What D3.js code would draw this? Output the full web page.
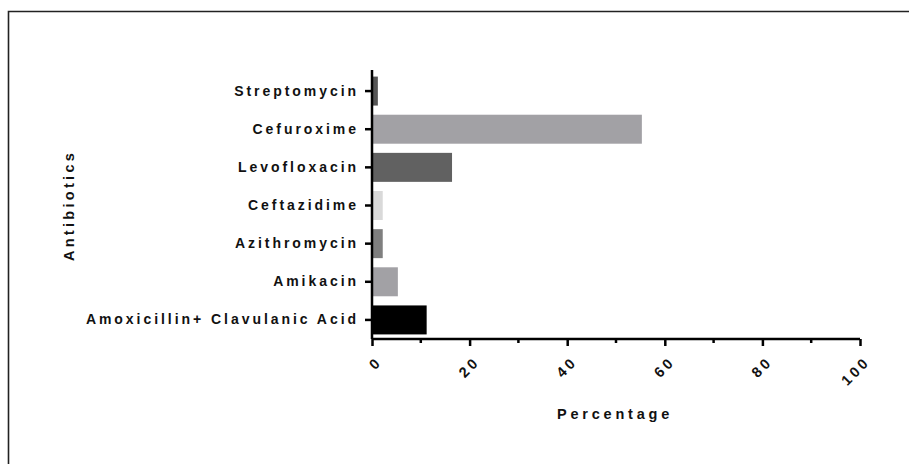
<!DOCTYPE html>
<html>
<head>
<meta charset="utf-8">
<script src="https://cdn.jsdelivr.net/npm/d3@7"></script>
<style>
  body { margin: 0; background: #fff; }
  svg text { font-family: 'Liberation Sans', Arial, sans-serif; font-weight: 700; fill: #111; }
</style>
</head>
<body>
<div id="chart"></div>
<script>
// data
const antibiotics = ['Amoxicillin+ Clavulanic Acid', 'Amikacin', 'Azithromycin', 'Ceftazidime', 'Levofloxacin', 'Cefuroxime', 'Streptomycin']
const percentages = [11.2, 5.3, 2.2, 2.2, 16.4, 55.3, 1.2]
const barColors = ['#000000', '#a2a1a5', '#7f7f7f', '#d9d9d9', '#616161', '#a2a1a5', '#555555']
const xTicks = [0, 20, 40, 60, 80, 100]

const width = 909
const height = 464
const margin = { top: 72, left: 372, right: 49, bottom: 125 }
const plotWidth = width - margin.left - margin.right
const plotHeight = height - margin.top - margin.bottom

const datapoints = antibiotics.map((name, i) => ({ name: name, value: percentages[i], color: barColors[i] }))

const svg = d3
  .select('#chart')
  .append('svg')
  .attr('width', width)
  .attr('height', height)

// frame line, top and left only
svg
  .append('path')
  .attr('d', 'M8.5,' + height + 'V11.5H' + width)
  .attr('fill', 'none')
  .attr('stroke', '#222')
  .attr('stroke-width', 1.6)

const g = svg
  .append('g')
  .attr('transform', 'translate(' + margin.left + ',' + margin.top + ')')

const xPositionScale = d3
  .scaleLinear()
  .domain([0, 100])
  .range([0, plotWidth])

const yPositionScale = d3
  .scaleBand()
  .domain(antibiotics)
  .range([plotHeight, 0])
  .paddingInner(0.24)
  .paddingOuter(0.12)

g.selectAll('rect')
  .data(datapoints)
  .enter()
  .append('rect')
  .attr('x', 0)
  .attr('y', d => yPositionScale(d.name))
  .attr('width', d => xPositionScale(d.value))
  .attr('height', yPositionScale.bandwidth())
  .attr('fill', d => d.color)

// x axis with minor ticks every 10
const xAxis = d3.axisBottom(xPositionScale).tickValues(xTicks).tickSize(7).tickFormat(d3.format('d'))
g.append('g')
  .attr('class', 'axis x-axis')
  .attr('transform', 'translate(0,' + plotHeight + ')')
  .call(xAxis)
  .call(a => a.select('.domain').attr('stroke', '#000').attr('stroke-width', 2.5).attr('d', 'M0,0H' + plotWidth))
  .call(a => a.selectAll('.tick line').attr('stroke', '#000').attr('stroke-width', 2.5))
  .call(a =>
    a.selectAll('.tick text')
      .attr('font-size', 14.5)
      .attr('letter-spacing', 3.2)
      .attr('text-anchor', 'end')
      .attr('dy', '0.35em')
      .attr('transform', 'translate(7,20) rotate(-45)')
      .attr('x', 0)
      .attr('y', 0)
  )

g.append('g')
  .attr('class', 'minor-ticks')
  .selectAll('line')
  .data(d3.range(10, 100, 20))
  .enter()
  .append('line')
  .attr('x1', d => xPositionScale(d))
  .attr('x2', d => xPositionScale(d))
  .attr('y1', plotHeight)
  .attr('y2', plotHeight + 4)
  .attr('stroke', '#000')
  .attr('stroke-width', 2.5)

// y axis
const yAxis = d3.axisLeft(yPositionScale).tickSize(7).tickPadding(6)
g.append('g')
  .attr('class', 'axis y-axis')
  .call(yAxis)
  .call(a => a.select('.domain').attr('stroke', '#000').attr('stroke-width', 2.5).attr('d', 'M0,-2V' + plotHeight))
  .call(a => a.selectAll('.tick text').attr('font-size', 14).attr('letter-spacing', 2.95))
  .call(a => a.selectAll('.tick line').attr('stroke', '#000').attr('stroke-width', 2.5))

// axis titles
svg
  .append('text')
  .text('Percentage')
  .attr('x', margin.left + plotWidth / 2 - 1)
  .attr('y', 419)
  .attr('text-anchor', 'middle')
  .attr('font-size', 14.5)
  .attr('letter-spacing', 3.8)

svg
  .append('text')
  .text('Antibiotics')
  .attr('text-anchor', 'middle')
  .attr('font-size', 14.5)
  .attr('letter-spacing', 3.3)
  .attr('transform', 'translate(74,' + (margin.top + plotHeight / 2) + ') rotate(-90)')
</script>
</body>
</html>
